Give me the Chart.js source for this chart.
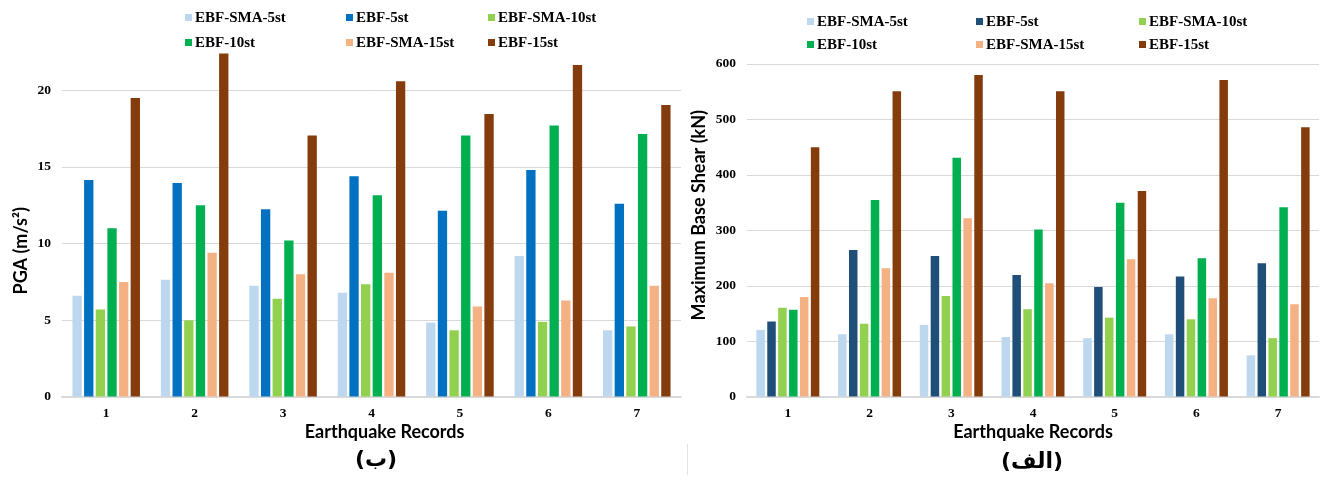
<!DOCTYPE html>
<html>
<head>
<meta charset="utf-8">
<script src="https://cdn.jsdelivr.net/npm/chart.js@4.4.1/dist/chart.umd.min.js"></script>
<style>
html,body{margin:0;padding:0;background:#fff;}
#wrap{position:relative;width:1323px;height:480px;overflow:hidden;background:#fff;}
.box{position:absolute;top:0;height:480px;}
.lg{position:absolute;font:bold 15px "Liberation Serif","Times New Roman",serif;color:#000;white-space:nowrap;line-height:18px;height:18px;}
.lg i{position:absolute;width:7px;height:7px;top:6px;left:0;}
.cap{position:absolute;font:bold 22px "DejaVu Sans",sans-serif;color:#000;transform:translate(-50%,-50%);white-space:nowrap;}
</style>
</head>
<body>
<div id="wrap">
  <div class="box" style="left:0;width:686px"><canvas id="pga"></canvas></div>
  <div class="box" style="left:686px;width:637px"><canvas id="shear"></canvas></div>
  <div style="position:absolute;left:687px;top:444px;width:1px;height:31px;background:#e3e3e3"></div>
</div>
<script>
// ---- data ----
const categories = ['1', '2', '3', '4', '5', '6', '7'];
const seriesNames = ['EBF-SMA-5st', 'EBF-5st', 'EBF-SMA-10st', 'EBF-10st', 'EBF-SMA-15st', 'EBF-15st'];

// PGA (m/s2)  — chart (ب)
const pgaSma5  = [6.6, 7.65, 7.25, 6.8, 4.85, 9.2, 4.35];
const pgaEbf5  = [14.15, 13.95, 12.25, 14.4, 12.15, 14.8, 12.6];
const pgaSma10 = [5.7, 5.0, 6.4, 7.35, 4.35, 4.9, 4.6];
const pgaEbf10 = [11.0, 12.5, 10.2, 13.15, 17.05, 17.7, 17.15];
const pgaSma15 = [7.5, 9.4, 8.0, 8.1, 5.9, 6.3, 7.25];
const pgaEbf15 = [19.5, 22.4, 17.05, 20.6, 18.45, 21.65, 19.05];

// Maximum Base Shear (kN) — chart (الف)
const shearSma5  = [121, 113, 130, 108, 106, 113, 75];
const shearEbf5  = [136, 265, 254, 220, 198, 217, 241];
const shearSma10 = [161, 132, 182, 158, 143, 140, 106];
const shearEbf10 = [157, 355, 431, 302, 350, 250, 342];
const shearSma15 = [180, 232, 322, 205, 248, 178, 167];
const shearEbf15 = [450, 551, 580, 551, 371, 571, 486];

const pgaTicks = [0, 5, 10, 15, 20];
const shearTicks = [0, 100, 200, 300, 400, 500, 600];

const xTitle = 'Earthquake Records';
const pgaTitle = 'PGA (m/s\u00B2)';
const shearTitle = 'Maximum Base Shear (kN)';
const pgaCaption = '(ب)';
const shearCaption = '(الف)';

// ---- styles ----
const colorsPga   = ['#BDD7EE', '#0070C0', '#92D050', '#00B050', '#F4B183', '#843C0C'];
const colorsShear = ['#BDD7EE', '#1F4E79', '#92D050', '#00B050', '#F4B183', '#843C0C'];
const tickFont = {family: '"Liberation Serif", "Times New Roman", serif', weight: 'bold', size: 13.5};
const titleFontX = {family: 'Lato, "Open Sans", sans-serif', weight: 'bold', size: 18};
const titleFontY = {family: 'Lato, "Open Sans", sans-serif', weight: 'bold', size: 18};

function makeChart(id, series, colors, cfg) {
  return new Chart(document.getElementById(id), {
    type: 'bar',
    data: {
      labels: categories,
      datasets: series.map((d, i) => ({
        label: seriesNames[i], data: d, backgroundColor: colors[i], borderWidth: 0,
        categoryPercentage: cfg.cp, barPercentage: cfg.bp
      }))
    },
    options: {
      responsive: true, maintainAspectRatio: false, animation: false,
      layout: {padding: {left: 0, right: cfg.padRight, top: cfg.padTop, bottom: 33}},
      plugins: {legend: {display: false}, tooltip: {enabled: false}, title: {display: false}},
      scales: {
        x: {
          grid: {display: false, drawTicks: false},
          border: {display: true, color: '#D9D9D9', width: 1.5},
          ticks: {padding: 8, color: '#000', font: tickFont},
          title: {display: true, text: cfg.xTitle, color: '#000', font: titleFontX, padding: {top: 0, bottom: 4}},
          afterFit(s) { s.height = 50; }
        },
        y: {
          min: 0, max: cfg.ymax,
          grid: {color: '#D9D9D9', drawTicks: false, lineWidth: 1},
          border: {display: false},
          ticks: {padding: 11, color: '#000', font: tickFont},
          afterBuildTicks(s) { s.ticks = cfg.ticks.map(v => ({value: v})); },
          title: {display: true, text: cfg.yTitle, color: '#000', font: titleFontY, padding: {top: cfg.yTitlePad, bottom: 0}},
          afterFit(s) { s.width = cfg.yWidth; }
        }
      }
    }
  });
}

makeChart('pga', [pgaSma5, pgaEbf5, pgaSma10, pgaEbf10, pgaSma15, pgaEbf15], colorsPga, {
  cp: 0.79, bp: 0.8, padRight: 5, padTop: 52, ymax: 22.5, ticks: pgaTicks,
  yWidth: 62, yTitlePad: 10,
  xTitle: '      ' + xTitle,
  yTitle: pgaTitle + '            '
});
makeChart('shear', [shearSma5, shearEbf5, shearSma10, shearEbf10, shearSma15, shearEbf15], colorsShear, {
  cp: 0.8, bp: 0.78, padRight: 4, padTop: 64, ymax: 600, ticks: shearTicks,
  yWidth: 61, yTitlePad: 2,
  xTitle: xTitle,
  yTitle: '       ' + shearTitle
});

// ---- HTML legends & captions ----
const wrap = document.getElementById('wrap');
function legend(colors, colX, rowY) {
  seriesNames.forEach((n, i) => {
    const d = document.createElement('div');
    d.className = 'lg';
    d.style.left = colX[i % 3] + 'px';
    d.style.top = (rowY[Math.floor(i / 3)] - 9) + 'px';
    d.style.paddingLeft = '10px';
    const b = document.createElement('i');
    b.style.background = colors[i];
    d.appendChild(b);
    d.appendChild(document.createTextNode(n));
    wrap.appendChild(d);
  });
}
legend(colorsPga, [185, 346, 488], [17, 42]);
legend(colorsShear, [807, 976, 1139], [21, 44]);

function caption(text, x, y) {
  const c = document.createElement('div');
  c.className = 'cap';
  c.style.left = x + 'px';
  c.style.top = y + 'px';
  c.dir = 'rtl';
  c.textContent = text;
  wrap.appendChild(c);
}
caption(pgaCaption, 376, 458);
caption(shearCaption, 1032, 460);
</script>
</body>
</html>
